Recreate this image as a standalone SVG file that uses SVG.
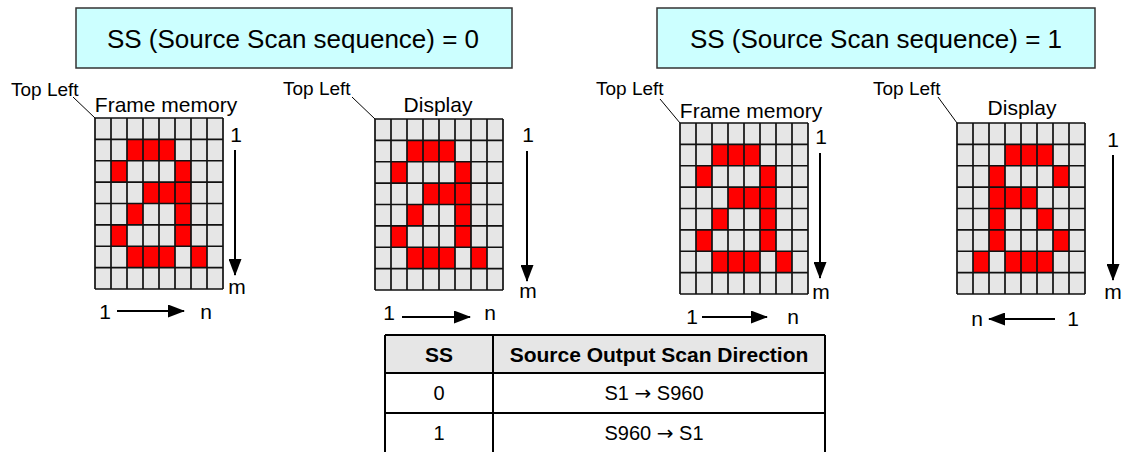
<svg xmlns="http://www.w3.org/2000/svg" xmlns:xlink="http://www.w3.org/1999/xlink" width="1122" height="452" viewBox="0 0 1122 452">
<style>
text{font-family:"Liberation Sans",Arial,sans-serif;fill:#000}
.title{font-size:26px;text-anchor:middle}
.lbl{font-size:21px;text-anchor:middle}
.tl{font-size:19px}
.ax{font-size:21px;text-anchor:middle}
.th{font-size:21px;font-weight:bold;text-anchor:middle}
.td{font-size:20px;text-anchor:middle}
.ar{font-family:"DejaVu Sans",sans-serif;font-size:20px}
.box{fill:#ccffff;stroke:#333;stroke-width:1.5}
.bg{fill:#e6e6e6}
.red{fill:#ff0000}
.gl{fill:none;stroke:#111;stroke-width:1.7}
.lead{stroke:#000;stroke-width:1;fill:none}
.arr{stroke:#000;stroke-width:2;fill:none;marker-end:url(#ah)}
.tbl{fill:none;stroke:#000;stroke-width:2}
.thf{fill:#e6e6e6}
</style>
<defs>
<marker id="ah" viewBox="0 0 17 13" refX="16" refY="6.5" markerWidth="17" markerHeight="13" markerUnits="userSpaceOnUse" orient="auto">
<path d="M0,0 L17,6.5 L0,13 Z" fill="#000"/>
</marker>
<rect id="gbg" class="bg" x="0" y="0" width="128" height="171"/>
<path id="glines" class="gl" d="M0,0V171M16,0V171M32,0V171M48,0V171M64,0V171M80,0V171M96,0V171M112,0V171M128,0V171M0,0H128M0,21.375H128M0,42.75H128M0,64.125H128M0,85.5H128M0,106.875H128M0,128.25H128M0,149.625H128M0,171H128"/>
<g id="patA" class="red">
<rect x="32" y="21.375" width="16" height="21.375"/><rect x="48" y="21.375" width="16" height="21.375"/><rect x="64" y="21.375" width="16" height="21.375"/>
<rect x="16" y="42.75" width="16" height="21.375"/><rect x="80" y="42.75" width="16" height="21.375"/>
<rect x="48" y="64.125" width="16" height="21.375"/><rect x="64" y="64.125" width="16" height="21.375"/><rect x="80" y="64.125" width="16" height="21.375"/>
<rect x="32" y="85.5" width="16" height="21.375"/><rect x="80" y="85.5" width="16" height="21.375"/>
<rect x="16" y="106.875" width="16" height="21.375"/><rect x="80" y="106.875" width="16" height="21.375"/>
<rect x="32" y="128.25" width="16" height="21.375"/><rect x="48" y="128.25" width="16" height="21.375"/><rect x="64" y="128.25" width="16" height="21.375"/><rect x="96" y="128.25" width="16" height="21.375"/>
</g>
<g id="patB" class="red">
<rect x="48" y="21.375" width="16" height="21.375"/><rect x="64" y="21.375" width="16" height="21.375"/><rect x="80" y="21.375" width="16" height="21.375"/>
<rect x="32" y="42.75" width="16" height="21.375"/><rect x="96" y="42.75" width="16" height="21.375"/>
<rect x="32" y="64.125" width="16" height="21.375"/><rect x="48" y="64.125" width="16" height="21.375"/><rect x="64" y="64.125" width="16" height="21.375"/>
<rect x="32" y="85.5" width="16" height="21.375"/><rect x="80" y="85.5" width="16" height="21.375"/>
<rect x="32" y="106.875" width="16" height="21.375"/><rect x="96" y="106.875" width="16" height="21.375"/>
<rect x="16" y="128.25" width="16" height="21.375"/><rect x="48" y="128.25" width="16" height="21.375"/><rect x="64" y="128.25" width="16" height="21.375"/><rect x="80" y="128.25" width="16" height="21.375"/>
</g>
</defs>
<rect width="1122" height="452" fill="#fff"/>

<g id="title0">
<rect class="box" x="76" y="8" width="436" height="60"/>
<text class="title" x="293" y="48">SS (Source Scan sequence) = 0</text>
</g>
<g id="title1">
<rect class="box" x="657" y="8" width="438" height="60"/>
<text class="title" x="876" y="48">SS (Source Scan sequence) = 1</text>
</g>

<g id="grid-fm0">
<text class="tl" x="11" y="96">Top Left</text>
<text class="lbl" x="166" y="112">Frame memory</text>
<g transform="translate(95,118)"><use href="#gbg"/><use href="#patA"/><use href="#glines"/></g>
<text class="ax" x="236" y="142">1</text>
<text class="ax" x="237" y="294">m</text>
<text class="ax" x="105" y="319">1</text>
<text class="ax" x="206" y="319">n</text>
</g>
<g id="grid-dp0">
<text class="tl" x="283" y="95">Top Left</text>
<text class="lbl" x="438" y="112">Display</text>
<g transform="translate(375,119)"><use href="#gbg"/><use href="#patA"/><use href="#glines"/></g>
<text class="ax" x="528" y="142">1</text>
<text class="ax" x="528" y="298">m</text>
<text class="ax" x="389" y="320">1</text>
<text class="ax" x="490" y="320">n</text>
</g>
<g id="grid-fm1">
<text class="tl" x="596" y="95">Top Left</text>
<text class="lbl" x="751" y="118">Frame memory</text>
<g transform="translate(680,123)"><use href="#gbg"/><use href="#patA"/><use href="#glines"/></g>
<text class="ax" x="821" y="144">1</text>
<text class="ax" x="821" y="299">m</text>
<text class="ax" x="692" y="324">1</text>
<text class="ax" x="793" y="324">n</text>
</g>
<g id="grid-dp1">
<text class="tl" x="873" y="95">Top Left</text>
<text class="lbl" x="1022" y="115">Display</text>
<g transform="translate(957,123)"><use href="#gbg"/><use href="#patB"/><use href="#glines"/></g>
<text class="ax" x="1113" y="147">1</text>
<text class="ax" x="1113" y="299">m</text>
<text class="ax" x="977" y="326">n</text>
<text class="ax" x="1073" y="326">1</text>
</g>

<g id="connectors">
<path class="lead" d="M73,97 L95,118"/>
<path class="lead" d="M352,97 L375,119"/>
<path class="lead" d="M660,99 L680,123"/>
<path class="lead" d="M938,97 L957,123"/>
<path class="arr" d="M235,150 V275"/>
<path class="arr" d="M117,311 H184"/>
<path class="arr" d="M527,151 V281"/>
<path class="arr" d="M402,317 H470"/>
<path class="arr" d="M820,153 V278"/>
<path class="arr" d="M702,317 H767"/>
<path class="arr" d="M1113,155 V280"/>
<path class="arr" d="M1055,319 H989"/>
</g>

<g id="table">
<rect class="thf" x="385" y="335" width="440" height="38"/>
<path class="tbl" d="M385,335 H825 M385,373 H825 M385,413 H825 M385,335 V452 M825,335 V452 M493,335 V452"/>
<text class="th" x="439" y="362">SS</text>
<text class="th" x="659" y="362">Source Output Scan Direction</text>
<text class="td" x="439" y="400">0</text>
<text class="td" x="654" y="400">S1 <tspan class="ar">→</tspan> S960</text>
<text class="td" x="439" y="440">1</text>
<text class="td" x="654" y="440">S960 <tspan class="ar">→</tspan> S1</text>
</g>
</svg>
